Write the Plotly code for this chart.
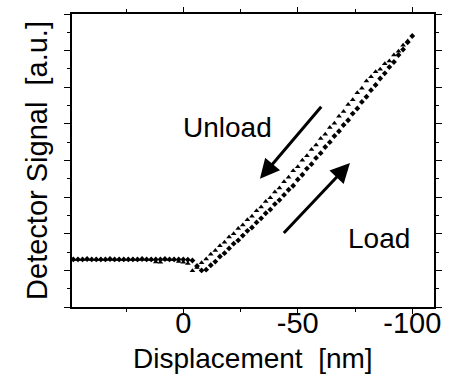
import plotly.graph_objects as go

# Approach (load) curve: displacement [nm] and detector signal [a.u.]
load_x = [48, 46, 44, 42, 40, 38, 36, 34, 32, 30, 28, 26, 24, 22, 20, 18, 16, 14, 12, 10,
          8, 6, 4, 2, 0, -2, -4, -6, -8, -10, -12, -14, -16, -18, -20, -22, -24, -26, -28,
          -30, -32, -34, -36, -38, -40, -42, -44, -46, -48, -50, -52, -54, -56, -58, -60,
          -62, -64, -66, -68, -70, -72, -74, -76, -78, -80, -82, -84, -86, -88, -90, -92,
          -94, -96, -98, -100]
load_y = [1.30, 1.30, 1.30, 1.31, 1.30, 1.30, 1.30, 1.30, 1.31, 1.30, 1.30, 1.30, 1.30, 1.30,
          1.30, 1.31, 1.30, 1.30, 1.30, 1.30, 1.31, 1.30, 1.30, 1.30, 1.30, 1.29, 1.27, 1.12,
          1.00, 1.02, 1.14, 1.24, 1.38, 1.47, 1.60, 1.73, 1.82, 1.95, 2.08, 2.17, 2.31, 2.42,
          2.56, 2.66, 2.81, 2.92, 3.06, 3.20, 3.31, 3.48, 3.61, 3.78, 3.90, 4.07, 4.20, 4.37,
          4.50, 4.67, 4.80, 4.97, 5.10, 5.28, 5.42, 5.60, 5.74, 5.92, 6.06, 6.24, 6.38, 6.55,
          6.69, 6.88, 7.03, 7.23, 7.40]

# Retract (unload) curve
unload_x = [-98, -96, -94, -92, -90, -88, -86, -84, -82, -80, -78, -76, -74, -72, -70, -68,
            -66, -64, -62, -60, -58, -56, -54, -52, -50, -48, -46, -44, -42, -40, -38, -36,
            -34, -32, -30, -28, -26, -24, -22, -20, -18, -16, -14, -12, -10, -8, -6, -4, -2,
            0, 2, 4, 6, 8, 10, 12, 14, 16, 18, 20, 22, 24, 26, 28, 30, 32, 34, 36, 38, 40,
            42, 44, 46, 48]
unload_y = [7.26, 7.15, 6.98, 6.88, 6.72, 6.64, 6.49, 6.42, 6.29, 6.17, 5.97, 5.85, 5.66,
            5.53, 5.34, 5.21, 5.02, 4.90, 4.72, 4.60, 4.42, 4.30, 4.13, 4.01, 3.83, 3.72,
            3.54, 3.42, 3.25, 3.14, 2.98, 2.88, 2.73, 2.63, 2.48, 2.38, 2.24, 2.14, 2.00,
            1.91, 1.77, 1.67, 1.54, 1.44, 1.31, 1.21, 1.08, 0.99, 1.19, 1.22, 1.24, 1.30,
            1.30, 1.30, 1.22, 1.23, 1.30, 1.30, 1.30, 1.30, 1.30, 1.30, 1.30, 1.30, 1.30,
            1.30, 1.30, 1.30, 1.30, 1.30, 1.30, 1.30, 1.30, 1.30]

FONT = "Liberation Sans, Arial, sans-serif"
TICK_FONT = "Liberation Sans Narrow, Arial Narrow, Liberation Sans, Arial, sans-serif"

fig = go.Figure()
fig.add_trace(go.Scatter(
    x=load_x, y=load_y, mode="markers", name="Load",
    marker=dict(symbol="diamond", size=4.5, color="black", line=dict(width=0)),
))
fig.add_trace(go.Scatter(
    x=unload_x, y=unload_y, mode="markers", name="Unload",
    marker=dict(symbol="triangle-up", size=5, color="black", line=dict(width=0)),
))

# Direction arrows and labels
fig.add_annotation(x=-33.5, y=3.50, ax=-60.8, ay=5.51, xref="x", yref="y",
                   axref="x", ayref="y", text="", showarrow=True,
                   arrowhead=2, arrowsize=1.3, arrowwidth=3, arrowcolor="black")
fig.add_annotation(x=-72.8, y=3.93, ax=-43.3, ay=1.98, xref="x", yref="y",
                   axref="x", ayref="y", text="", showarrow=True,
                   arrowhead=2, arrowsize=1.3, arrowwidth=3, arrowcolor="black")
fig.add_annotation(x=-19.4, y=4.91, text="Unload", showarrow=False,
                   font=dict(family=FONT, size=28, color="black"))
fig.add_annotation(x=-85.5, y=1.87, text="Load", showarrow=False,
                   font=dict(family=FONT, size=28, color="black"))

# x-axis title, placed just under the tick labels
fig.add_annotation(text="Displacement  [nm]", xref="paper", yref="paper",
                   x=0.5, y=0, yanchor="middle", yshift=-51, showarrow=False,
                   font=dict(family=FONT, size=28, color="black"))

fig.update_xaxes(
    range=[48.6, -109.5],
    tickmode="array", tickvals=[0, -50, -100], ticktext=["0", "-50", "-100"],
    ticks="outside", ticklen=5, tickwidth=1, tickcolor="black",
    minor=dict(tickmode="array", tickvals=[25, -25, -75], ticks="outside",
               ticklen=3, tickcolor="black"),
    showline=True, linecolor="black", linewidth=1.5, mirror="ticks",
    showgrid=False, zeroline=False,
    ticklabelstandoff=-16,
    tickfont=dict(family=TICK_FONT, size=29, color="black"),
)
fig.update_yaxes(
    range=[0, 8], tickmode="linear", tick0=0, dtick=1, showticklabels=False,
    ticks="outside", ticklen=6, tickwidth=1, tickcolor="black",
    minor=dict(tickmode="linear", tick0=0.5, dtick=1, ticks="outside",
               ticklen=3, tickcolor="black"),
    showline=True, linecolor="black", linewidth=1.5, mirror="ticks",
    showgrid=False, zeroline=False,
    title=dict(text="Detector Signal  [a.u.]", standoff=8,
               font=dict(family=FONT, size=29, color="black")),
)

fig.update_layout(
    width=449, height=375,
    margin=dict(l=72, r=7, t=12, b=68),
    paper_bgcolor="white", plot_bgcolor="white",
    showlegend=False,
)

fig.write_html("out.html")
